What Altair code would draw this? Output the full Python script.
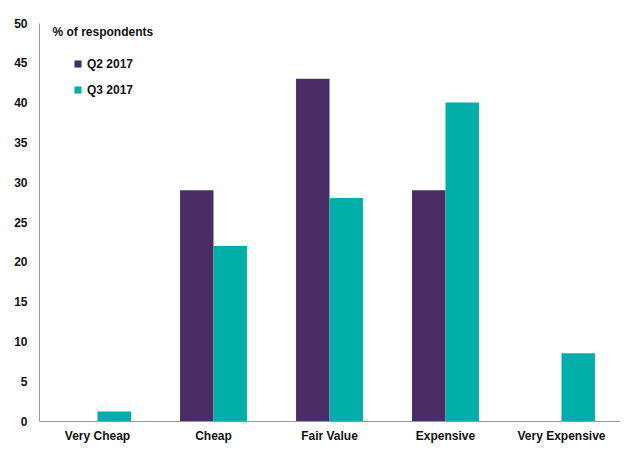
import altair as alt
import pandas as pd

categories = ["Very Cheap", "Cheap", "Fair Value", "Expensive", "Very Expensive"]
q2_2017 = [0, 29, 43, 29, 0]
q3_2017 = [1.2, 22, 28, 40, 8.5]
series = ["Q2 2017", "Q3 2017"]
colors = ["#4B2D66", "#00B0A8"]

rows = []
for i, c in enumerate(categories):
    rows.append({"category": c, "series": series[0], "value": q2_2017[i]})
    rows.append({"category": c, "series": series[1], "value": q3_2017[i]})
df = pd.DataFrame(rows)

font = "Liberation Sans"

chart = alt.Chart(df).mark_bar().encode(
    x=alt.X("category:N", sort=categories,
            scale=alt.Scale(paddingInner=0.423, paddingOuter=0.216),
            axis=alt.Axis(title=None, labelAngle=0, ticks=False, domainColor="#999999",
                          labelFont=font, labelFontSize=12, labelFontWeight="bold",
                          labelColor="#111111", labelPadding=9)),
    xOffset=alt.XOffset("series:N", sort=series),
    y=alt.Y("value:Q", scale=alt.Scale(domain=[0, 50]),
            axis=alt.Axis(values=list(range(0, 51, 5)), grid=False, ticks=False,
                          domainColor="#999999", labelFont=font, labelFontSize=12,
                          labelFontWeight="bold", labelColor="#111111", labelPadding=12,
                          title="% of respondents", titleAngle=0, titleAlign="left",
                          titleBaseline="middle", titleX=13, titleY=8, titleFont=font,
                          titleFontSize=12, titleFontWeight="bold", titleColor="#111111")),
    color=alt.Color("series:N", sort=series,
                    scale=alt.Scale(domain=series, range=colors),
                    legend=alt.Legend(title=None, orient="none", legendX=33, legendY=35,
                                      symbolType="square", symbolSize=50, symbolStrokeWidth=0,
                                      labelFont=font, labelFontSize=12, labelFontWeight="bold",
                                      labelColor="#111111", rowPadding=14, labelOffset=3)),
).properties(
    width=581, height=398,
    autosize=alt.AutoSizeParams(type="none"),
    padding={"left": 31, "top": 15, "right": 10, "bottom": 40},
).configure_view(stroke=None)

chart.save("out.html", embed_options={"renderer": "svg", "actions": False})
